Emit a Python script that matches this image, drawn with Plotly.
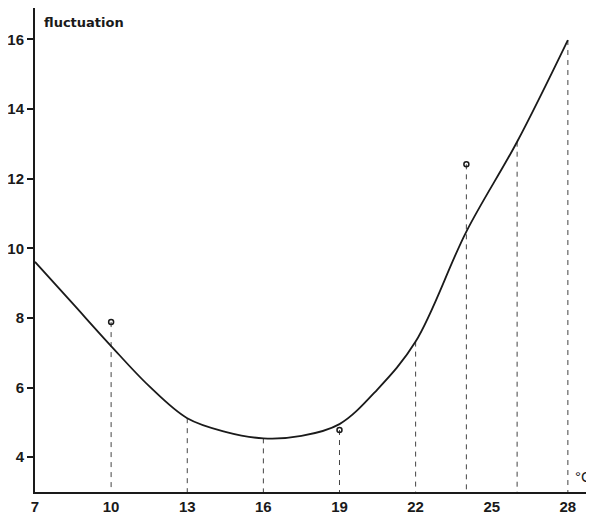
import plotly.graph_objects as go

# Curve (temperature °C vs fluctuation)
curve_x = [7, 8.5, 10, 11.5, 13, 14.5, 16, 17.5, 19, 20.5, 22, 24, 26, 28]
curve_y = [9.61, 8.40, 7.19, 6.04, 5.12, 4.73, 4.54, 4.61, 4.95, 5.95, 7.32, 10.48, 13.06, 15.98]

# Observed points (open circles)
point_x = [10, 19, 24]
point_y = [7.88, 4.78, 12.41]

# Dashed drop lines: x position and top value
drop_x = [10, 13, 16, 19, 22, 24, 26, 28]
drop_top = [7.88, 5.12, 4.54, 4.78, 7.32, 12.41, 13.06, 15.98]

x_ticks = [7, 10, 13, 16, 19, 22, 25, 28]
y_ticks = [4, 6, 8, 10, 12, 14, 16]

Y_MIN, Y_MAX = 3.0, 16.9
X_MIN, X_MAX = 7, 29.03

fig = go.Figure()

dx, dy = [], []
for x, t in zip(drop_x, drop_top):
    dx += [x, x, None]
    dy += [t, Y_MIN, None]
fig.add_trace(go.Scatter(x=dx, y=dy, mode="lines",
                         line=dict(color="#444", width=1, dash="5px,5px"),
                         hoverinfo="skip", showlegend=False))

fig.add_trace(go.Scatter(x=curve_x, y=curve_y, mode="lines",
                         line=dict(color="#1a1a1a", width=1.8, shape="spline", smoothing=1.0),
                         showlegend=False))

fig.add_trace(go.Scatter(x=point_x, y=point_y, mode="markers",
                         marker=dict(symbol="circle-open", size=5, color="#1a1a1a",
                                     line=dict(width=1.5, color="#1a1a1a")),
                         showlegend=False))

tick_font = dict(family="Liberation Sans, Arial, sans-serif", size=15, color="#1a1a1a", weight="bold")

# The page body adds an 8px offset, so the figure is sized to fit the window.
fig.update_layout(
    width=586, height=507,
    margin=dict(l=27, r=0, t=0, b=23),
    paper_bgcolor="white", plot_bgcolor="white",
    xaxis=dict(range=[X_MIN, X_MAX], tickvals=x_ticks, ticks="", showgrid=False,
               zeroline=False, showline=True, linecolor="#1a1a1a", linewidth=2,
               tickfont=tick_font),
    yaxis=dict(range=[Y_MIN, Y_MAX], tickvals=y_ticks, ticks="outside", ticklen=6,
               tickwidth=1.5, tickcolor="#1a1a1a", showgrid=False, zeroline=False,
               showline=True, linecolor="#1a1a1a", linewidth=2, tickfont=tick_font),
    annotations=[
        dict(text="fluctuation", xref="paper", yref="paper", x=0.0125, y=0.971,
             xanchor="left", yanchor="middle", showarrow=False,
             font=dict(family="DejaVu Sans, sans-serif", size=13, color="#1a1a1a", weight="bold")),
        dict(text="°C", xref="paper", yref="y", x=0.962, y=3.45,
             xanchor="left", yanchor="middle", showarrow=False,
             font=dict(family="Liberation Sans, Arial, sans-serif", size=15, color="#1a1a1a")),
    ],
)

fig.write_html("out.html")
